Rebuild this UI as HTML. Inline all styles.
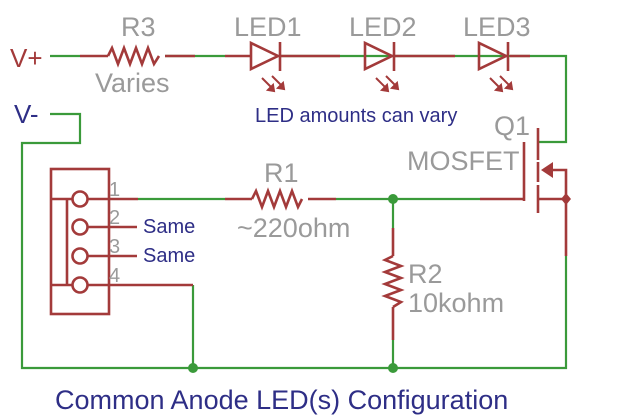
<!DOCTYPE html>
<html><head><meta charset="utf-8"><style>
body{margin:0;background:#fff}
svg{display:block}
.g{stroke:#3a9a3a;stroke-width:2.2;fill:none}
.r{stroke:#a33a3a;stroke-width:2.6;fill:none}
.t{font-family:"Liberation Sans",sans-serif;fill:#9a9a9a}
.b{font-family:"Liberation Sans",sans-serif;fill:#2e2e86}
</style></head><body>
<svg width="620" height="416" viewBox="0 0 620 416">
<path class="g" d="M50 56H80 M165 56H225 M280 56H395 M395 56H510 M510 56H566V142H538"/>
<path class="r" d="M80 56H108 M165 56H195 M225 56H250 M280 56H340 M395 56H455 M510 56H530"/>
<path class="r" d="M108 56l4-8l6 16l6-16l6 16l6-16l6 16l6-16l6 16l5-8"/>
<g class="r">
<path d="M251 43V69L278 56Z M280 42V71"/>
<path d="M365 43V69L392 56Z M394 42V71"/>
<path d="M479 43V69L506 56Z M508 42V71"/>
</g>
<g stroke="#a33a3a" stroke-width="2" fill="#a33a3a">
<path d="M262 78l10 10 M272 76l10 10"/><path d="M274 91l-6-1 5-5z M284 89l-6-1 5-5z"/>
<path d="M376 78l10 10 M386 76l10 10"/><path d="M388 91l-6-1 5-5z M398 89l-6-1 5-5z"/>
<path d="M490 78l10 10 M500 76l10 10"/><path d="M502 91l-6-1 5-5z M512 89l-6-1 5-5z"/>
</g>
<g class="r">
<path d="M524 142V201 M538 128V160 M538 162V182 M538 185V213"/>
<path d="M538 199H566 M552 170H566V199"/>
</g>
<path d="M541 170L553 162V178Z" fill="#a33a3a"/>
<path d="M566 193l5 6-5 6-5-6z" fill="#a33a3a"/>
<path class="r" d="M566 199V256"/>
<path class="g" d="M566 256V368H22V143H80V114H50"/>
<path class="g" d="M138 199H225 M336 199H480 M393 199V228 M393 340V368 M193 285V368"/>
<path class="r" d="M88 199H138 M225 199H252 M308 199H336 M480 199H524 M88 285H193 M88 227H137 M88 256H137"/>
<path class="r" d="M252 199l4-8l6 16l6-16l6 16l6-16l6 16l6-16l6 16l4-8"/>
<path class="r" d="M393 228V256 M393 307V340"/>
<path class="r" d="M393 256l-8 4l16 6l-16 6l16 6l-16 6l16 6l-16 6l16 6l-8 5"/>
<g fill="#3a9a3a"><circle cx="393" cy="199" r="5"/><circle cx="193" cy="368" r="5"/><circle cx="393" cy="368" r="5"/></g>
<g class="r" stroke-width="3">
<rect x="51" y="169" width="58" height="145"/>
<path d="M67 199V285 M51 199H72 M51 285H72"/>
<circle cx="80" cy="199" r="7.5" fill="#fff"/><circle cx="80" cy="227" r="7.5" fill="#fff"/>
<circle cx="80" cy="256" r="7.5" fill="#fff"/><circle cx="80" cy="285" r="7.5" fill="#fff"/>
</g>
<g class="t" font-size="20"><text x="109" y="196">1</text><text x="109" y="224">2</text><text x="109" y="253">3</text><text x="109" y="282">4</text></g>
<text x="10" y="67" font-family="Liberation Sans,sans-serif" font-size="26" fill="#a33a3a">V+</text>
<text x="14" y="123" class="b" font-size="26">V-</text>
<g class="t" font-size="27">
<text x="121" y="36">R3</text><text x="95" y="92">Varies</text>
<text x="234" y="36">LED1</text><text x="349" y="36">LED2</text><text x="463" y="36">LED3</text>
<text x="494" y="135">Q1</text><text x="407" y="170">MOSFET</text>
<text x="264" y="182">R1</text><text x="237" y="237">~220ohm</text>
<text x="408" y="283">R2</text><text x="408" y="312">10kohm</text>
</g>
<text x="255" y="122" class="b" font-size="20">LED amounts can vary</text>
<text x="143" y="233" class="b" font-size="20">Same</text>
<text x="143" y="262" class="b" font-size="20">Same</text>
<text x="55" y="409" class="b" font-size="27">Common Anode LED(s) Configuration</text>
</svg>
</body></html>
